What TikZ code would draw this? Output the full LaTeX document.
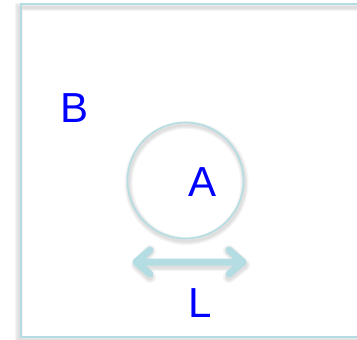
\documentclass[tikz,border=0pt]{standalone}
\usepackage{fontspec}
\setmainfont{Liberation Sans}
\definecolor{edge}{HTML}{B3DDE2}
\definecolor{lbl}{HTML}{0000FF}
\tikzset{
  frame/.style={draw=edge, line width=2pt},
  ring/.style={circle, draw=edge, line width=1.6pt, minimum size=116pt, inner sep=0pt},
  lab/.style={text=lbl, font=\fontsize{42}{42}\selectfont, inner sep=0pt},
  span/.style={draw=edge, line width=7pt, line cap=round, line join=round},
  haze/.style={draw=black, draw opacity=0.045}
}
\begin{document}
\begin{tikzpicture}[x=1pt,y=-1pt]
  \useasboundingbox (0,0) rectangle (357,340);
  \clip (0,0) rectangle (357,340);
  % dimension arrow end points (vertices of the chevrons)
  \coordinate (l1) at (136,262);
  \coordinate (l2) at (243,262);
  % soft shadows cast by the strokes
  \foreach \w in {8,5.5,3} {
    \draw[haze, line width=\w pt] (19,7) rectangle (373,340);
    \draw[haze, line width=\w pt] (186.5,183) circle (58);
    \draw[haze, line width={\w pt+4pt}, line cap=round, line join=round]
      ([shift={(14,-11)}]l1) -- ([shift={(1,3)}]l1) -- ([shift={(14,15)}]l1)
      ([shift={(1,3)}]l1) -- ([shift={(1,3)}]l2)
      ([shift={(-14,-11)}]l2) -- ([shift={(1,3)}]l2) -- ([shift={(-14,15)}]l2);
  }
  % outer frame
  \coordinate (nw) at (21,4);
  \coordinate (se) at (375,337);
  \draw[frame] (nw) rectangle (se);
  % circle A
  \node[ring] (circ) at (185.5,180.5) {};
  \node[lab] (b) at (75,108) {B};
  \node[lab] (a) at (203,182) {A};
  % double-headed dimension arrow L
  \draw[span] ([shift={(14,-12)}]l1) -- (l1) -- ([shift={(14,12)}]l1)
              (l1) -- (l2)
              ([shift={(-14,-12)}]l2) -- (l2) -- ([shift={(-14,12)}]l2);
  \node[lab] (l) at (200,303) {L};
\end{tikzpicture}
\end{document}
